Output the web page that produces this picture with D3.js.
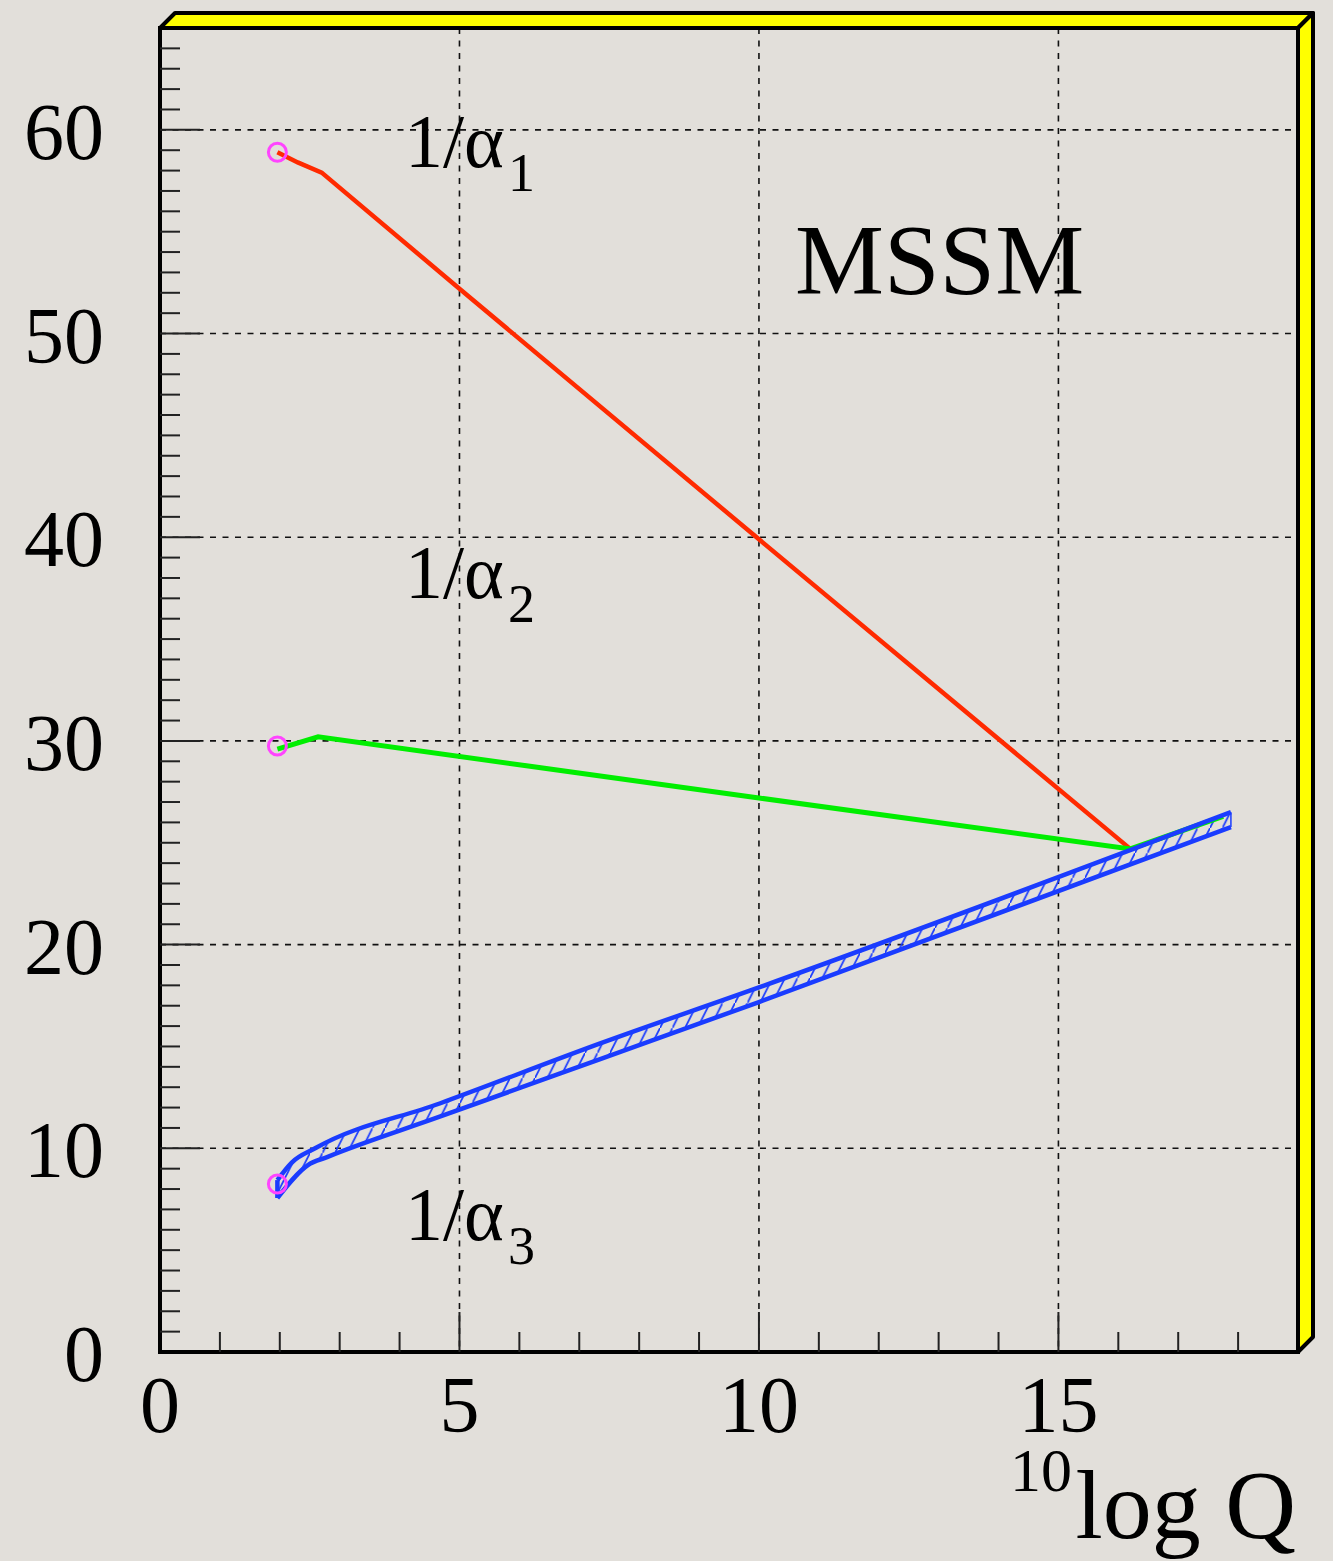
<!DOCTYPE html>
<html>
<head>
<meta charset="utf-8">
<script src="https://cdn.jsdelivr.net/npm/d3@7"></script>
<style>
  body { margin: 0; background: #e2dfda; }
  svg { display: block; font-family: "Liberation Serif", "Times New Roman", serif; }
</style>
</head>
<body>
<script>
// running couplings in the MSSM
var xMajor = [0, 5, 10, 15];
var yMajor = [0, 10, 20, 30, 40, 50, 60];

var q1 = [1.96, 2.3, 2.7, 5, 10, 16.2];
var inv1 = [58.9, 58.4, 57.9, 52.2, 39.9, 24.7];

var q2 = [1.96, 2.64, 10, 16.2, 17.75];
var inv2 = [29.6, 30.2, 27.2, 24.7, 26.3];

var q3up = [1.96, 2.2, 2.59, 4.67, 7.35, 10, 17.88];
var inv3up = [8.44, 9.3, 10.0, 12.2, 15.15, 17.9, 26.5];
var q3lo = [1.96, 2.47, 2.79, 4.67, 7.35, 10, 17.88];
var inv3lo = [7.56, 9.18, 9.57, 11.55, 14.38, 17.18, 25.77];

var mzQ = [1.96, 1.96, 1.96];
var mzInv = [58.9, 29.75, 8.25];

var margin = {left: 160, right: 35, top: 28, bottom: 209};
var W = 1333, H = 1561;
var width = W - margin.left - margin.right;
var height = H - margin.top - margin.bottom;

var svg = d3.select("body").append("svg")
    .attr("width", W)
    .attr("height", H);

var blue = "#1a3cff";

var defs = svg.append("defs");
var pat = defs.append("pattern")
    .attr("id", "hatch")
    .attr("patternUnits", "userSpaceOnUse")
    .attr("width", 12.5)
    .attr("height", 25);
pat.append("line")
    .attr("x1", 0).attr("y1", 25).attr("x2", 12.5).attr("y2", 0)
    .attr("stroke", blue).attr("stroke-width", 1.7);

var g = svg.append("g")
    .attr("transform", "translate(" + margin.left + "," + margin.top + ")");

var x = d3.scaleLinear().domain([0, 19]).range([0, width]);
var y = d3.scaleLinear().domain([0, 65]).range([height, 0]);

// grid
g.selectAll("line.gx")
    .data(xMajor.slice(1))
    .enter().append("line")
    .attr("class", "gx")
    .attr("x1", d => x(d)).attr("x2", d => x(d))
    .attr("y1", 0).attr("y2", height)
    .attr("stroke", "#111").attr("stroke-width", 1.6)
    .attr("stroke-dasharray", "6,6.5");
g.selectAll("line.gy")
    .data(yMajor.slice(1))
    .enter().append("line")
    .attr("class", "gy")
    .attr("x1", 0).attr("x2", width)
    .attr("y1", d => y(d)).attr("y2", d => y(d))
    .attr("stroke", "#111").attr("stroke-width", 1.6)
    .attr("stroke-dasharray", "6,6.5");

var line = d3.line().x(d => x(d[0])).y(d => y(d[1]));
var smooth = d3.line().x(d => x(d[0])).y(d => y(d[1])).curve(d3.curveMonotoneX);
function pairs(a, b) { return a.map((v, i) => [v, b[i]]); }

// alpha3 band
var up = pairs(q3up, inv3up);
var lo = pairs(q3lo, inv3lo);
var upPath = smooth(up);
var loPath = smooth(lo.slice().reverse().map(p => [p[0], p[1]]));
g.append("path")
    .attr("d", upPath + "L" + loPath.slice(1) + "Z")
    .attr("fill", "url(#hatch)")
    .attr("stroke", "none");

g.append("path")
    .attr("d", line(pairs(q1, inv1)))
    .attr("fill", "none").attr("stroke", "#ff2a00").attr("stroke-width", 4.5);

g.append("path")
    .attr("d", line(pairs(q2, inv2)))
    .attr("fill", "none").attr("stroke", "#00ee00").attr("stroke-width", 5);

[up, lo].forEach(function(p) {
    g.append("path")
        .attr("d", smooth(p))
        .attr("fill", "none").attr("stroke", blue).attr("stroke-width", 4.5);
});
g.append("line")
    .attr("x1", x(q3up[0])).attr("y1", y(inv3up[0]))
    .attr("x2", x(q3lo[0])).attr("y2", y(inv3lo[0]))
    .attr("stroke", blue).attr("stroke-width", 4.5);
g.append("line")
    .attr("x1", x(q3up[6])).attr("y1", y(inv3up[6]))
    .attr("x2", x(q3lo[6])).attr("y2", y(inv3lo[6]))
    .attr("stroke", blue).attr("stroke-width", 1.5);

g.selectAll("circle.mz")
    .data(pairs(mzQ, mzInv))
    .enter().append("circle")
    .attr("class", "mz")
    .attr("cx", d => x(d[0])).attr("cy", d => y(d[1]))
    .attr("r", 9)
    .attr("fill", "none").attr("stroke", "#ff44ff").attr("stroke-width", 3);

// 3D yellow frame
var dd = 15;
g.append("polygon")
    .attr("points", [[0, 0], [dd, -dd], [width + dd, -dd], [width, 0]].join(" "))
    .attr("fill", "#ffff00").attr("stroke", "#000").attr("stroke-width", 4)
    .attr("stroke-linejoin", "round");
g.append("polygon")
    .attr("points", [[width, 0], [width + dd, -dd], [width + dd, height - dd], [width, height]].join(" "))
    .attr("fill", "#ffff00").attr("stroke", "#000").attr("stroke-width", 4)
    .attr("stroke-linejoin", "round");
g.append("rect")
    .attr("x", 0).attr("y", 0).attr("width", width).attr("height", height)
    .attr("fill", "none").attr("stroke", "#000").attr("stroke-width", 4);

// ticks
var xMinor = d3.range(1, 19);
var yMinor = d3.range(1, 65);
g.selectAll("line.tx")
    .data(xMinor)
    .enter().append("line")
    .attr("x1", d => x(d)).attr("x2", d => x(d))
    .attr("y1", height).attr("y2", d => height - (d % 5 === 0 ? 40 : 20))
    .attr("stroke", "#222").attr("stroke-width", 2);
g.selectAll("line.ty")
    .data(yMinor)
    .enter().append("line")
    .attr("y1", d => y(d)).attr("y2", d => y(d))
    .attr("x1", 0).attr("x2", d => (d % 10 === 0 ? 40 : 20))
    .attr("stroke", "#222").attr("stroke-width", 2);

// tick labels
g.selectAll("text.xl")
    .data(xMajor)
    .enter().append("text")
    .attr("x", d => x(d)).attr("y", height + 80)
    .attr("text-anchor", "middle")
    .attr("font-size", 80)
    .text(d => d);
g.selectAll("text.yl")
    .data(yMajor)
    .enter().append("text")
    .attr("x", -56).attr("y", d => y(d) + 29)
    .attr("text-anchor", "end")
    .attr("font-size", 80)
    .text(d => d);

// axis title
svg.append("text")
    .attr("x", 1010).attr("y", 1491)
    .attr("font-size", 62)
    .text("10");
svg.append("text")
    .attr("x", 1296).attr("y", 1538)
    .attr("text-anchor", "end")
    .attr("font-size", 98)
    .text("log Q");

// curve labels
var labels = [["1", 167], ["2", 598], ["3", 1240]];
labels.forEach(function(l) {
    var t = svg.append("text")
        .attr("x", 405).attr("y", l[1])
        .attr("font-size", 76);
    t.append("tspan").text("1/α");
    t.append("tspan").attr("font-size", 54).attr("dx", 4).attr("dy", 24).text(l[0]);
});

svg.append("text")
    .attr("x", 795).attr("y", 293)
    .attr("font-size", 100)
    .text("MSSM");
</script>
</body>
</html>
